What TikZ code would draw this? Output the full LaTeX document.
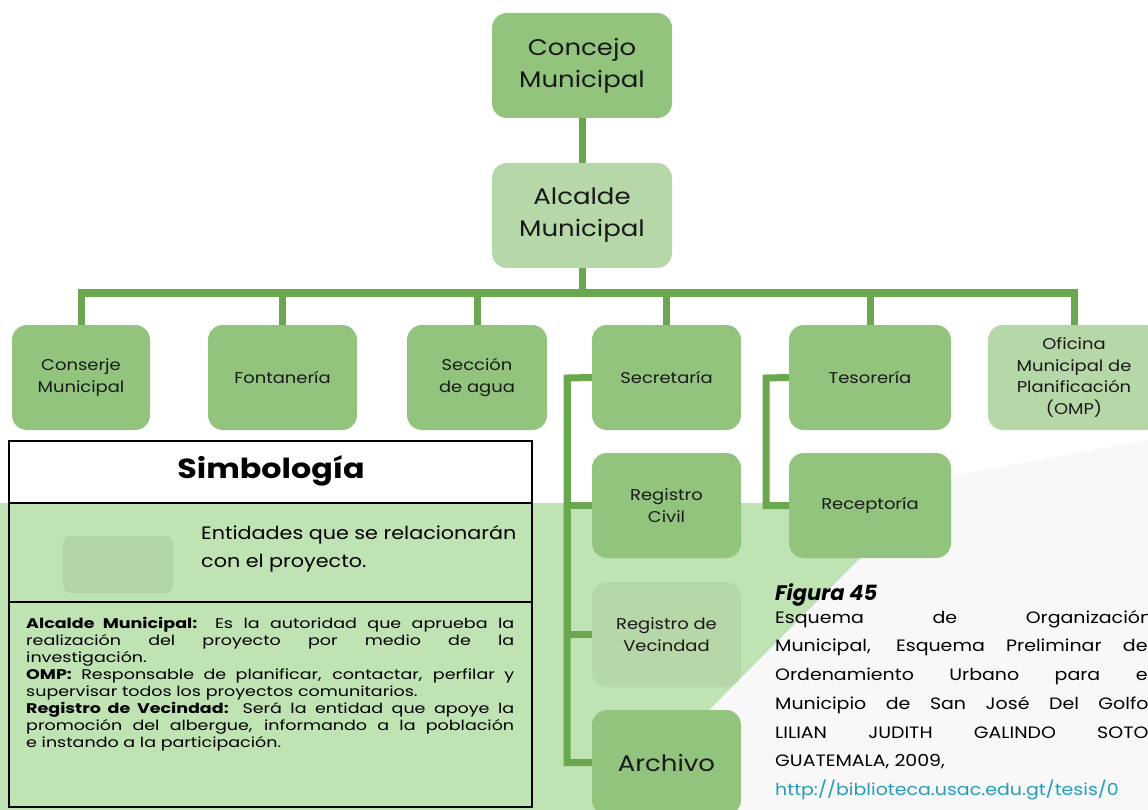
\documentclass[tikz,border=0pt]{standalone}
\usepackage{fontspec}
\setmainfont{Poppins}
\newfontfamily\widefont{Poppins}[FakeStretch=1.15]
\newfontfamily\bodyfont{Poppins}[FakeStretch=1.25]
\definecolor{boxgreen}{RGB}{147,196,125}
\definecolor{boxlight}{RGB}{182,215,168}
\definecolor{linegreen}{RGB}{106,168,79}
\definecolor{bandgreen}{RGB}{191,227,179}
\definecolor{symgreen}{RGB}{179,213,165}
\definecolor{urlblue}{RGB}{38,156,186}
\definecolor{fadegrey}{RGB}{248,248,248}
\tikzstyle{unit}=[rectangle,rounded corners=15pt,fill=boxgreen,minimum height=105pt,align=center,inner sep=2pt,text=black!90,font=\widefont\fontsize{15.6}{21.5}\selectfont]
\tikzstyle{unitlight}=[unit,fill=boxlight]
\tikzstyle{big}=[font=\widefont\fontsize{22.6}{32}\selectfont]
\tikzstyle{conn}=[line width=7pt,draw=linegreen]

\begin{document}
\begin{tikzpicture}[x=1pt,y=-1pt]
\useasboundingbox (0,0) rectangle (1148,810);
\clip (0,0) rectangle (1148,810);
\fill[bandgreen] (0,503) -- (915,503) -- (610,810) -- (0,810) -- cycle;
\fill[fadegrey] (940,478) -- (1148,440) -- (1148,810) -- (610,810) -- cycle;

\node (concejo) at (582,65.5) [unit,big,minimum width=180pt]        {Concejo\\Municipal};
\node (alcalde) at (582,215.5) [unitlight,big,minimum width=180pt]  {Alcalde\\Municipal};

\node (conserje) at (81,377.5) [unit,minimum width=138pt]      {Conserje\\Municipal};
\node (fontaneria) at (282.5,377.5) [unit,minimum width=149pt] {Fontanería};
\node (seccion) at (477,377.5) [unit,minimum width=140pt]      {Sección\\de agua};
\node (secretaria) at (666.5,377.5) [unit,minimum width=149pt] {Secretaría};
\node (tesoreria) at (870,377.5) [unit,minimum width=162pt]    {Tesorería};
\node (omp) at (1074,377.5) [unitlight,minimum width=172pt]    {Oficina\\Municipal de\\Planificación\\(OMP)};

\node (rcivil) at (666.5,505.5) [unit,minimum width=149pt]         {Registro\\Civil};
\node (rvecindad) at (666.5,634.5) [unitlight,minimum width=149pt] {Registro de\\Vecindad};
\node (archivo) at (666.5,762.5) [unit,big,minimum width=149pt]    {Archivo};
\node (receptoria) at (870,505.5) [unit,minimum width=162pt]       {Receptoría};

\coordinate (bus) at (582,293);
\coordinate (secspine) at (567,378);
\coordinate (tesspine) at (766,378);

\draw[conn] (concejo) -- (alcalde);
\draw[conn] (alcalde.south) -- (bus);
\draw[conn] (bus) -| (conserje.north);
\draw[conn] (bus) -| (fontaneria.north);
\draw[conn] (bus) -| (seccion.north);
\draw[conn] (bus) -| (secretaria.north);
\draw[conn] (bus) -| (tesoreria.north);
\draw[conn] (bus) -| (omp.north);

\draw[conn] (secretaria.west) -- (secspine) |- (archivo.west);
\draw[conn] (secspine) |- (rcivil.west);
\draw[conn] (secspine) |- (rvecindad.west);
\draw[conn] (tesoreria.west) -- (tesspine) |- (receptoria.west);

% simbologia
\draw[line width=1.5pt] (9,441) rectangle (532,807);
\draw[line width=1.5pt] (9,503) -- (532,503);
\draw[line width=1.5pt] (9,602) -- (532,602);
\node (simbtitle) at (271,471) [font=\widefont\fontsize{27.6}{32}\selectfont\bfseries] {Simbología};
\fill[symgreen, rounded corners=8pt] (63,536) rectangle (173,593);
\node (simbtext) at (201,549) [anchor=west,align=left,inner sep=0pt,font=\widefont\fontsize{18}{28}\selectfont] {Entidades que se relacionarán\\con el proyecto.};
\node (simbbody) at (26,617) [anchor=north west,align=left,inner sep=0pt,font=\bodyfont\fontsize{14}{17}\selectfont] {%
\makebox[488pt][s]{\textbf{Alcalde Municipal:} Es la autoridad que aprueba la}\\
\makebox[488pt][s]{realización del proyecto por medio de la}\\
investigación.\\
\makebox[488pt][s]{\textbf{OMP:} Responsable de planificar, contactar, perfilar y}\\
supervisar todos los proyectos comunitarios.\\
\makebox[488pt][s]{\textbf{Registro de Vecindad:} Será la entidad que apoye la}\\
\makebox[488pt][s]{promoción del albergue, informando a la población}\\
e instando a la participación.};

% figura
\node (figtitle) at (775,595) [anchor=west,inner sep=0pt,font=\fontsize{21}{25}\selectfont\bfseries\itshape] {Figura 45};
\node (figtext) at (775,610) [anchor=north west,align=left,inner sep=0pt,font=\widefont\fontsize{16.5}{28.7}\selectfont] {%
\makebox[377pt][s]{Esquema de Organización}\\
\makebox[377pt][s]{Municipal, Esquema Preliminar del}\\
\makebox[377pt][s]{Ordenamiento Urbano para el}\\
\makebox[377pt][s]{Municipio de San José Del Golfo,}\\
\makebox[377pt][s]{LILIAN JUDITH GALINDO SOTO,}\\
GUATEMALA, 2009,\\
\textcolor{urlblue}{http://biblioteca.usac.edu.gt/tesis/0}};
\end{tikzpicture}
\end{document}
